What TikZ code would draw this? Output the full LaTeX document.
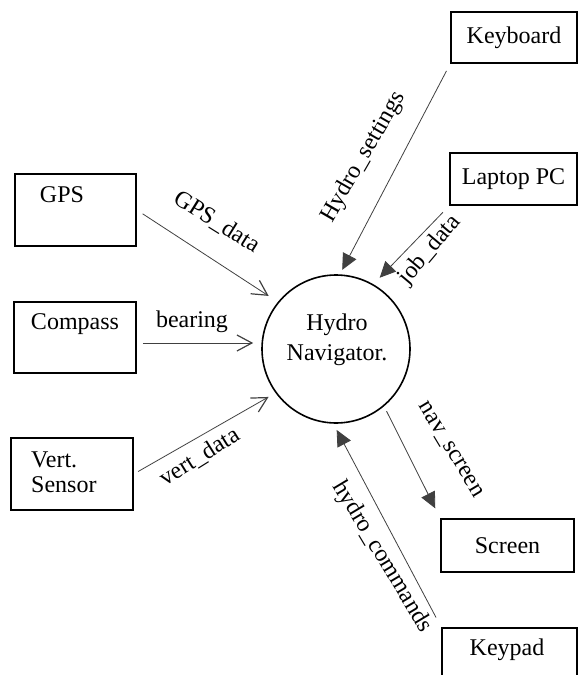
\documentclass[tikz,border=0pt]{standalone}
\usepackage{fontspec}
\setmainfont{Liberation Serif}
\usetikzlibrary{arrows.meta}

\begin{document}
\begin{tikzpicture}[x = 1pt, y = -1pt,
  every node/.style = {inner sep = 0pt, font = \fontsize{24}{30}\selectfont},
  ext/.style = {draw, line width = 1.6pt},
  process/.style = {draw, circle, line width = 1.6pt, minimum size = 148pt},
  inflow/.style = {draw = black!75, line width = 0.8pt, -{Straight Barb[length = 15pt, width = 16pt, line width = 1.2pt]}},
  fillflow/.style = {draw = black!75, line width = 0.8pt, -{Triangle[length = 16pt, width = 15pt]}}]
\useasboundingbox (0, 0) rectangle (578, 675);
% terminators
\node[ext, minimum width = 121pt, minimum height = 72pt] (gps) at (75.5, 210) {};
\node[ext, minimum width = 122pt, minimum height = 71pt] (compass) at (75, 337.5) {};
\node[ext, minimum width = 122pt, minimum height = 72pt] (vert) at (72, 474) {};
\node[ext, minimum width = 126pt, minimum height = 51pt] (keyboard) at (514, 37.5) {Keyboard};
\node[ext, minimum width = 127pt, minimum height = 52pt] (laptop) at (513.5, 179) {Laptop PC};
\node[ext, minimum width = 133pt, minimum height = 53pt] (screen) at (507.5, 545.5) {Screen};
\node[ext, minimum width = 135pt, minimum height = 72pt] (keypad) at (509.5, 664) {};
\node (gps txt) at (62, 195) {GPS};
\node (compass txt) at (75, 324) {Compass};
\node[align = left, anchor = west, font = \fontsize{24}{25}\selectfont] (vert txt) at (31, 472) {Vert.\\Sensor};
\node (keypad txt) at (507, 650) {Keypad};
% process
\node[process] (hydro) at (336, 349) {};
\node[align = center] (hydro txt) at (337, 340) {Hydro\\Navigator.};
% flows
\draw[inflow, shorten <= 7pt, shorten >= 11pt] (gps.east) -- (hydro.141);
\draw[inflow, shorten <= 6pt, shorten >= 8pt] ([yshift = -5.5pt]compass.east) -- ([yshift = 6pt]hydro.west);
\draw[inflow, shorten <= 5pt, shorten >= 8pt] (vert.east) -- (hydro.216);
\draw[fillflow, shorten <= 8pt, shorten >= 5pt] (keyboard.south west) -- (hydro.87);
\draw[fillflow, shorten <= 9pt, shorten >= 9pt] (laptop.south west) -- (hydro.60);
\draw[fillflow, shorten <= 5.5pt, shorten >= 11pt] (hydro.-50) -- (screen.north west);
\draw[fillflow, shorten <= 11pt, shorten >= 7pt] (keypad.north west) -- (hydro.-92);
% flow labels
\node[rotate = -32] (gps lbl) at (217, 222) {GPS\_data};
\node (bearing lbl) at (192, 322) {bearing};
\node[rotate = 32] (vert lbl) at (200, 457) {vert\_data};
\node[rotate = 60] (settings lbl) at (364, 157) {Hydro\_settings};
\node[rotate = 50] (job lbl) at (430, 250) {job\_data};
\node[rotate = -59] (nav lbl) at (450, 450) {nav\_screen};
\node[rotate = -59] (cmd lbl) at (382, 557) {hydro\_commands};
\end{tikzpicture}
\end{document}
